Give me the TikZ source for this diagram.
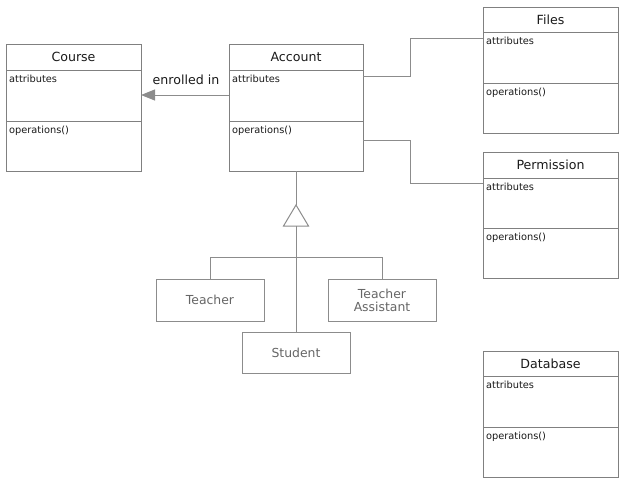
\documentclass[tikz,border=0pt]{standalone}
\usepackage{fontspec}
\setmainfont{DejaVu Sans}
\usetikzlibrary{arrows.meta}
\definecolor{boxgray}{HTML}{808080}
\definecolor{linegray}{HTML}{8C8C8C}
\definecolor{subtext}{HTML}{666666}
\definecolor{titletext}{HTML}{1A1A1A}
\tikzset{
  classbox/.style={draw=boxgray, line width=1pt, inner sep=0pt, outer sep=0pt, anchor=north west, fill=white},
  divider/.style={draw=boxgray, line width=1pt},
  titlelabel/.style={font=\fontsize{12.6}{14}\selectfont, text=titletext, inner sep=0pt},
  smalllabel/.style={font=\fontsize{9.8}{11}\selectfont, text=titletext, inner sep=0pt, anchor=north west},
  subbox/.style={draw=linegray, line width=1pt, inner sep=0pt, outer sep=0pt, fill=white, font=\fontsize{12.4}{14}\selectfont, text=subtext, align=center},
  conn/.style={draw=linegray, line width=1pt},
}
% name, x, y, w, h, title height, attr height, title
\newcommand{\umlclass}[8]{%
  \node[classbox, minimum width=#4pt, minimum height=#5pt] (#1) at (#2,#3) {};
  \draw[divider] ([yshift=-#6pt]#1.north west) -- ([yshift=-#6pt]#1.north east);
  \draw[divider] ([yshift=-#7pt]#1.north west) -- ([yshift=-#7pt]#1.north east);
  \node[titlelabel] (#1-title) at ([yshift=-#6pt/2]#1.north) {#8};
  \node[smalllabel] (#1-attr) at ([xshift=3pt,yshift=-#6pt-5pt]#1.north west) {attributes};
  \node[smalllabel] (#1-ops) at ([xshift=3pt,yshift=-#7pt-5pt]#1.north west) {operations()};
}
\begin{document}
\begin{tikzpicture}[x=1pt,y=-1pt]
\useasboundingbox (0,0) rectangle (631,490);
\umlclass{course}{6}{44}{135}{127}{26}{77}{Course}
\umlclass{account}{229}{44}{134}{127}{26}{77}{Account}
\umlclass{files}{483}{7}{135}{126}{25}{76}{Files}
\umlclass{perm}{483}{152}{135}{126}{26}{76}{Permission}
\umlclass{db}{483}{351}{135}{126}{25}{76}{Database}

% subclasses
\node[subbox, minimum width=108pt, minimum height=42pt] (teacher) at (210,300) {Teacher};
\node[subbox, minimum width=108pt, minimum height=42pt] (ta) at (382,300) {Teacher\\[-1pt]Assistant};
\node[subbox, minimum width=108pt, minimum height=41pt] (student) at (296,352.5) {Student};

% association enrolled in
\coordinate (accL) at (229,95);
\coordinate (crsR) at (141,95);
\draw[conn, -{Triangle[length=14pt,width=11pt]}, color=linegray] (accL) -- (crsR);
\node[titlelabel] (enr) at (186,80) {enrolled in};

% account to files / permission
\coordinate (a1) at (363,76);
\coordinate (a2) at (363,140);
\draw[conn] (a1) -- (410,76) -- (410,38) -- (483,38);
\draw[conn] (a2) -- (410,140) -- (410,183) -- (483,183);

% generalization
\coordinate (apex) at (296,205);
\coordinate (base) at (296,226);
\coordinate (hub) at (296,257);
\draw[conn] (account.south -| apex) -- (apex);
\draw[conn, fill=white] (apex) -- (308.5,226) -- (283.5,226) -- cycle;
\draw[conn] (base) -- (student.north -| base);
\draw[conn] (teacher.north) -- (210,257) -- (382,257) -- (ta.north);
\end{tikzpicture}
\end{document}
